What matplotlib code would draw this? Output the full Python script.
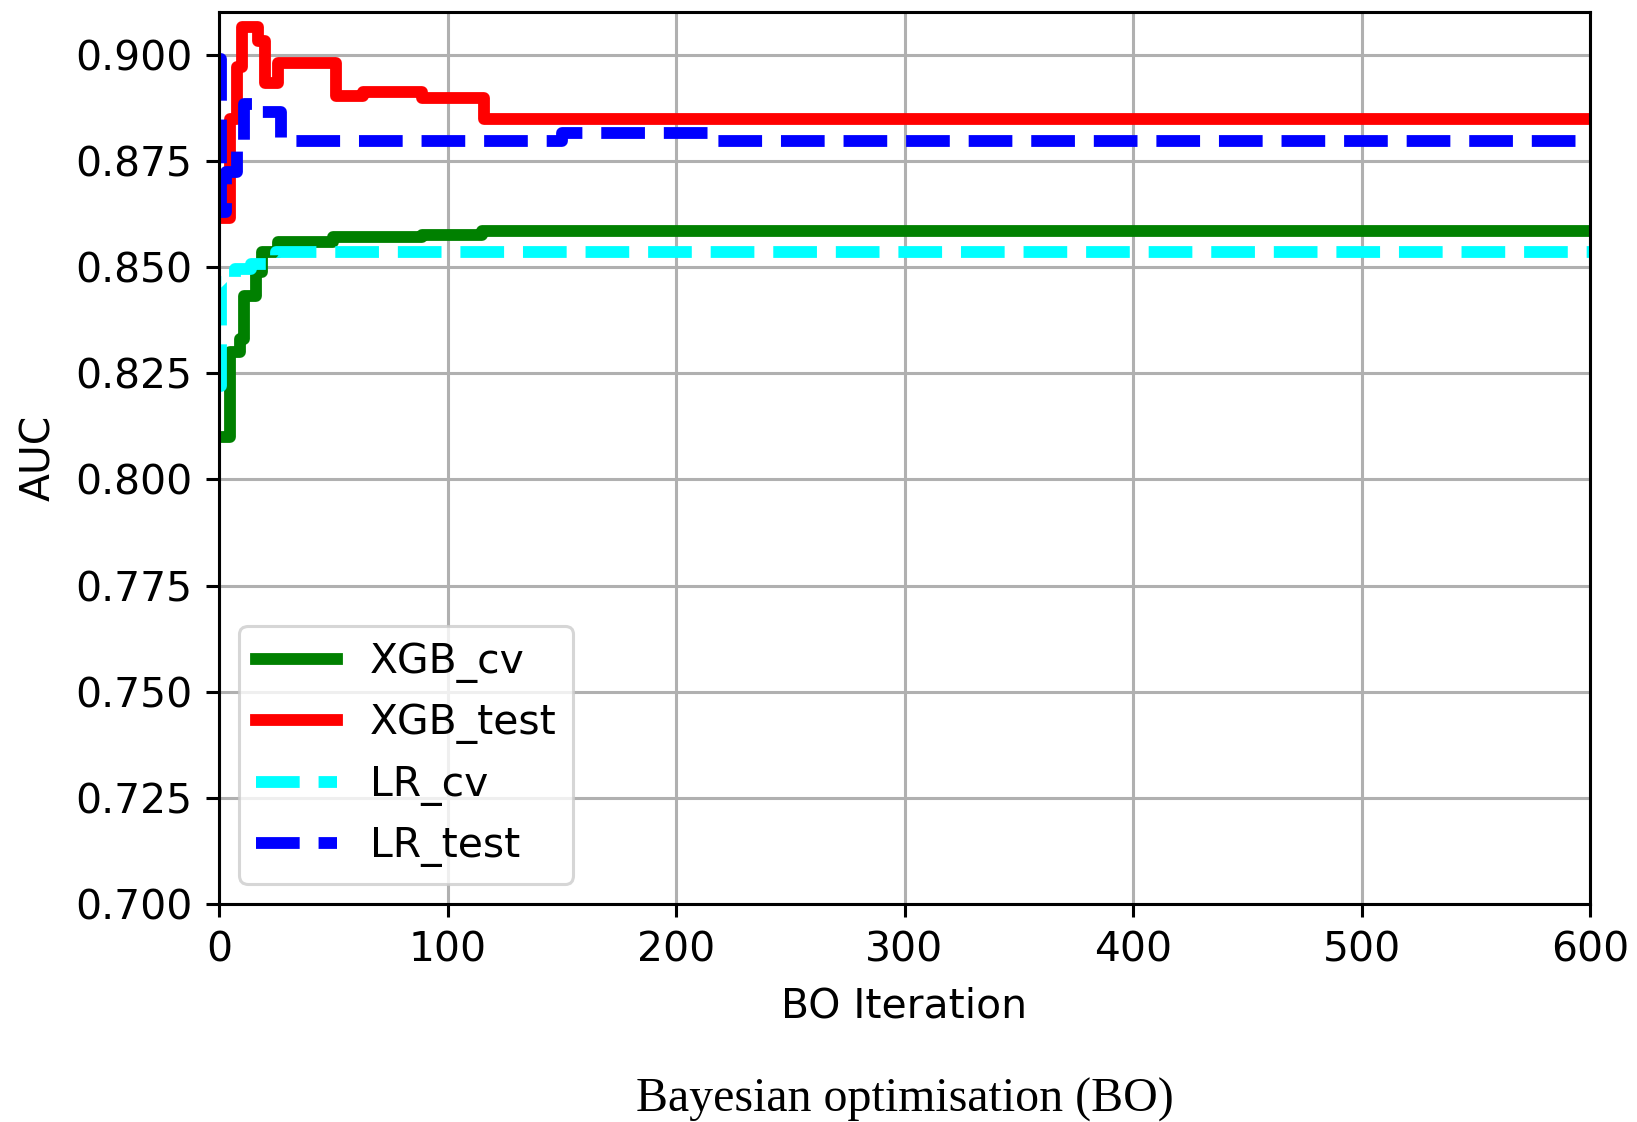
import matplotlib
matplotlib.use("Agg")
import matplotlib.pyplot as plt

# ---- data (change points of best-so-far curves; held until next change) ----
xgb_cv_iter = [0, 5, 9, 11, 16, 19, 26, 50, 89, 115, 600]
xgb_cv_auc = [0.8099, 0.8300, 0.8330, 0.8432, 0.8488, 0.8535, 0.8560, 0.8570, 0.8575, 0.8586, 0.8586]

xgb_test_iter = [0, 5, 8, 10, 17, 20, 26, 51, 63, 89, 116, 600]
xgb_test_auc = [0.8615, 0.8850, 0.8972, 0.9066, 0.9033, 0.8935, 0.8980, 0.8904, 0.8912, 0.8898, 0.8848, 0.8848]

lr_cv_iter = [0, 1, 7, 14, 25, 600]
lr_cv_auc = [0.8220, 0.8465, 0.8495, 0.8507, 0.8535, 0.8535]

lr_test_iter = [0, 1, 3, 8, 11, 17, 27, 150, 217, 600]
lr_test_auc = [0.8990, 0.8630, 0.8725, 0.8780, 0.8885, 0.8865, 0.8797, 0.8815, 0.8797, 0.8797]

series_labels = ["XGB_cv", "XGB_test", "LR_cv", "LR_test"]
x_ticks = [0, 100, 200, 300, 400, 500, 600]
y_ticks = [0.700, 0.725, 0.750, 0.775, 0.800, 0.825, 0.850, 0.875, 0.900]

# ---- style ----
s = 2.76  # scale from original rendering
plt.rcParams["font.family"] = ["DejaVu Sans"]
fs = 29.4

fig = plt.figure(figsize=(16.37, 11.22), dpi=100)
ax = fig.add_axes([0.1338, 0.1943, 0.9713 - 0.1338, 0.9889 - 0.1943])

lw = 8.5
ax.plot(xgb_cv_iter, xgb_cv_auc, color="green", lw=lw, ls="-", drawstyle="steps-post", label=series_labels[0])
ax.plot(xgb_test_iter, xgb_test_auc, color="red", lw=lw, ls="-", drawstyle="steps-post", label=series_labels[1])
ax.plot(lr_cv_iter, lr_cv_auc, color="cyan", lw=lw, ls="--", drawstyle="steps-post", label=series_labels[2])
ax.plot(lr_test_iter, lr_test_auc, color="blue", lw=lw, ls="--", drawstyle="steps-post", label=series_labels[3])

ax.set_xlim(0, 600)
ax.set_ylim(0.700, 0.910)
ax.set_xticks(x_ticks)
ax.set_yticks(y_ticks)
ax.set_yticklabels([f"{v:.3f}" for v in y_ticks])
ax.grid(True, color="#b0b0b0", lw=0.8 * s)
ax.set_axisbelow(True)
for sp in ax.spines.values():
    sp.set_linewidth(0.8 * s)
ax.tick_params(labelsize=fs, length=3.5 * s, width=0.8 * s, pad=3.5 * s)

ax.set_xlabel("BO Iteration", fontsize=fs, labelpad=4 * s)
ax.set_ylabel("AUC", fontsize=fs, labelpad=4 * s)

leg = ax.legend(loc="lower left", fontsize=fs, framealpha=0.8, borderaxespad=0.5)
leg.get_frame().set_linewidth(0.8 * s)

fig.text(0.5525, 0.020, "Bayesian optimisation (BO)", family=["Liberation Serif"],
         fontsize=34.5, ha="center", va="center")

fig.savefig("out.png", dpi=100)
